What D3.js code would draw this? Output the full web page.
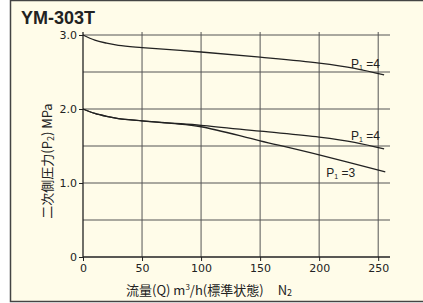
<!DOCTYPE html>
<html>
<head>
<meta charset="utf-8">
<script src="https://cdn.jsdelivr.net/npm/d3@7"></script>
<style>
  body { margin: 0; background: #fff; }
  svg { display: block; }
  text { font-family: "Liberation Sans", Arial, sans-serif; fill: #222; }
</style>
</head>
<body>
<div id="chart"></div>
<script>
var title = "YM-303T";
var xTicks = [0, 50, 100, 150, 200, 250];
var yTicks = [0, 1.0, 2.0, 3.0];
var yGrid = [0.5, 1.0, 1.5, 2.0, 2.5, 3.0];

// P1=4 (upper set pressure 3.0)
var topFlow  = [0, 10, 20, 30, 50, 100, 150, 200, 230, 255];
var topPress = [3.0, 2.93, 2.89, 2.86, 2.83, 2.77, 2.70, 2.62, 2.55, 2.46];
// P1=4 (set pressure 2.0)
var midFlow  = [0, 10, 20, 30, 50, 75, 100, 150, 200, 230, 255];
var midPress = [2.0, 1.94, 1.90, 1.87, 1.84, 1.81, 1.78, 1.70, 1.62, 1.55, 1.46];
// P1=3 (set pressure 2.0)
var lowFlow  = [0, 10, 20, 30, 50, 75, 100, 150, 200, 256];
var lowPress = [2.0, 1.94, 1.90, 1.87, 1.84, 1.805, 1.76, 1.57, 1.38, 1.15];

var curveLabels = [
  {p: "4", x: 227, y: 2.55},
  {p: "4", x: 227, y: 1.58},
  {p: "3", x: 206, y: 1.08}
];

var W = 423, H = 303;
var margin = {top: 32, left: 83, right: 33, bottom: 46};

var svg = d3.select("#chart").append("svg")
    .attr("width", W)
    .attr("height", H);

svg.append("rect")
    .attr("x", 10.5).attr("y", 0.5)
    .attr("width", W).attr("height", 301)
    .attr("fill", "#fffce9")
    .attr("stroke", "#444")
    .attr("stroke-width", 1.5);

var x = d3.scaleLinear().domain([0, 260]).range([margin.left, W - margin.right]);
var y = d3.scaleLinear().domain([0, 3.0]).range([257, 35]);

var g = svg.append("g");

// grid
g.selectAll(".hgrid").data(yGrid).enter().append("line")
    .attr("x1", x(0)).attr("x2", x(260))
    .attr("y1", d => y(d)).attr("y2", d => y(d))
    .attr("stroke", "#555").attr("stroke-width", 1);

g.selectAll(".vgrid").data(xTicks.slice(1)).enter().append("line")
    .attr("x1", d => x(d)).attr("x2", d => x(d))
    .attr("y1", y(0)).attr("y2", y(3.0) - 3)
    .attr("stroke", "#555").attr("stroke-width", 1);

// axes
var yAxis = g.append("g")
    .attr("transform", "translate(" + x(0) + ",0)")
    .call(d3.axisLeft(y).tickValues(yTicks).tickSize(4).tickPadding(2)
      .tickFormat(d => d === 0 ? "0" : d3.format(".1f")(d)));
var xAxis = g.append("g")
    .attr("transform", "translate(0," + y(0) + ")")
    .call(d3.axisBottom(x).tickValues(xTicks).tickSize(4).tickPadding(3));

[yAxis, xAxis].forEach(function(a) {
  a.select(".domain").remove();
  a.selectAll("line").attr("stroke", "#222");
  a.selectAll("text").attr("font-size", 11).attr("fill", "#222")
    .style("font-family", "'DejaVu Sans', sans-serif");
});
g.append("line")
    .attr("x1", x(0)).attr("x2", x(0))
    .attr("y1", y(0)).attr("y2", y(3.0) - 3)
    .attr("stroke", "#222").attr("stroke-width", 1.3);
g.append("line")
    .attr("x1", x(0)).attr("x2", x(260))
    .attr("y1", y(0)).attr("y2", y(0))
    .attr("stroke", "#222").attr("stroke-width", 1.3);

// curves
var line = d3.line()
    .x(d => x(d[0])).y(d => y(d[1]))
    .curve(d3.curveCatmullRom.alpha(0.5));

[[topFlow, topPress], [midFlow, midPress], [lowFlow, lowPress]].forEach(function(s) {
  g.append("path")
      .datum(d3.zip(s[0], s[1]))
      .attr("d", line)
      .attr("fill", "none")
      .attr("stroke", "#222")
      .attr("stroke-width", 1.3);
});

// curve labels
curveLabels.forEach(function(l) {
  var t = g.append("text")
      .attr("x", x(l.x)).attr("y", y(l.y))
      .attr("font-size", 12);
  t.append("tspan").text("P");
  t.append("tspan").attr("font-size", 7).attr("dy", 2).text("1");
  t.append("tspan").attr("dy", -2).text(" =" + l.p);
});

// title
svg.append("text")
    .attr("x", 21).attr("y", 24)
    .attr("font-size", 18).attr("font-weight", "bold")
    .attr("fill", "#111")
    .text(title);

// x axis title
var xt = svg.append("text")
    .attr("x", 126).attr("y", 295)
    .attr("font-size", 13)
    .style("font-family", "'Noto Sans CJK JP', sans-serif");
xt.append("tspan").text("流量(Q) m");
xt.append("tspan").attr("font-size", 8).attr("dy", -5).text("3");
xt.append("tspan").attr("dy", 5).text("/h(標準状態)");
xt.append("tspan").attr("dx", 14).text("N");
xt.append("tspan").attr("font-size", 9).attr("dy", 1).text("2");

// y axis title
var yt = svg.append("text")
    .attr("transform", "translate(52,161) rotate(-90)")
    .attr("text-anchor", "middle")
    .attr("font-size", 13)
    .style("font-family", "'Noto Sans CJK JP', sans-serif");
yt.append("tspan").text("二次側圧力(P");
yt.append("tspan").attr("font-size", 9).attr("dy", 2).text("2");
yt.append("tspan").attr("dy", -2).text(") MPa");
</script>
</body>
</html>
